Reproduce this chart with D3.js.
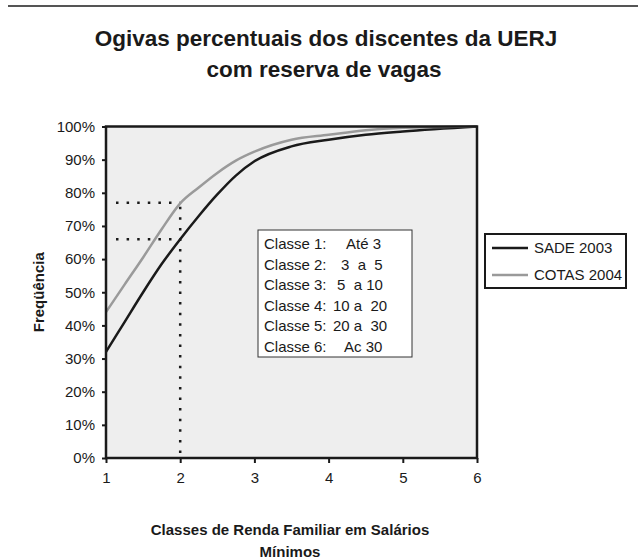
<!DOCTYPE html>
<html>
<head>
<meta charset="utf-8">
<script src="https://cdn.jsdelivr.net/npm/d3@7.9.0/dist/d3.min.js"></script>
<style>
  body { margin: 0; background: #fff; }
  svg text { font-family: "Liberation Sans", Arial, sans-serif; fill: #1a1a1a; }
</style>
</head>
<body>
<svg id="chart" width="638" height="560"></svg>
<script>
// values (cumulative %, by income class)
const classes = [1, 1.25, 1.5, 1.75, 2, 2.25, 2.5, 2.75, 3, 3.5, 4, 4.5, 5, 6];
const sade2003 = [32, 41, 50, 58.5, 66, 73, 79.5, 85.2, 89.5, 94, 96, 97.5, 98.5, 100];
const cotas2004 = [44, 52.3, 60.5, 69, 76.8, 81.6, 86, 89.7, 92.4, 96, 97.5, 98.9, 99.6, 100];
const xTicks = [1, 2, 3, 4, 5, 6];
const yTicks = d3.range(0, 101, 10);
const refClass = 2;
const refLevels = [66, 77];
const classNames = ["Classe 1:", "Classe 2:", "Classe 3:", "Classe 4:", "Classe 5:", "Classe 6:"];
const classRanges = ["Até 3", "3\u00a0\u00a0a\u00a0\u00a05", "5\u00a0\u00a0a 10", "10 a\u00a0\u00a020", "20 a\u00a0\u00a030", "Ac 30"];
const classRangeX = [88, 83, 79, 75, 75, 86];
const seriesNames = ["SADE 2003", "COTAS 2004"];
const seriesColors = ["#1a1a1a", "#9a9a9a"];

const svg = d3.select("#chart");

const x = d3.scaleLinear().domain([1, 6]).range([106, 477]);
const y = d3.scaleLinear().domain([0, 100]).range([458, 126.5]);

// top rule
svg.append("line")
  .attr("x1", 8).attr("x2", 638).attr("y1", 6).attr("y2", 6)
  .attr("stroke", "#555").attr("stroke-width", 2);

// title
svg.append("text")
  .attr("x", 326).attr("y", 46)
  .attr("text-anchor", "middle")
  .style("font-weight", "bold").style("font-size", "22.5px")
  .text("Ogivas percentuais dos discentes da UERJ");
svg.append("text")
  .attr("x", 324).attr("y", 77)
  .attr("text-anchor", "middle")
  .style("font-weight", "bold").style("font-size", "22.5px")
  .text("com reserva de vagas");

// plot background
svg.append("rect")
  .attr("x", x(1)).attr("y", y(100))
  .attr("width", x(6) - x(1)).attr("height", y(0) - y(100))
  .attr("fill", "#eeeeee");

// y axis
const yAxis = d3.axisLeft(y).tickValues(yTicks).tickSize(4).tickFormat((d) => d + "%");
const gy = svg.append("g").attr("transform", `translate(${x(1)},0)`).call(yAxis);
gy.select(".domain").remove();
gy.selectAll(".tick line").attr("stroke", "#1a1a1a").attr("stroke-width", 2);
gy.selectAll(".tick text")
  .attr("x", -11)
  .style("font-size", "15px")
  .style("font-family", "Liberation Sans, Arial, sans-serif")
  .attr("fill", "#1a1a1a");

// x axis
const xAxis = d3.axisBottom(x).tickValues(xTicks).tickSize(5).tickFormat(d3.format("d"));
const gx = svg.append("g").attr("transform", `translate(0,${y(0)})`).call(xAxis);
gx.select(".domain").remove();
gx.selectAll(".tick line").attr("stroke", "#1a1a1a").attr("stroke-width", 2);
gx.selectAll(".tick text")
  .attr("y", 14)
  .style("font-size", "15px")
  .style("font-family", "Liberation Sans, Arial, sans-serif")
  .attr("fill", "#1a1a1a");

// dotted reference lines
const dotted = svg.append("g")
  .attr("stroke", "#1a1a1a")
  .attr("stroke-width", 2.5)
  .attr("stroke-dasharray", "2.5,8.1")
  .attr("fill", "none");
dotted.append("line")
  .attr("x1", x(refClass)).attr("x2", x(refClass))
  .attr("y1", y(0) - 5).attr("y2", y(d3.max(refLevels)));
refLevels.forEach((v) => {
  dotted.append("line")
    .attr("x1", x(1) + 10).attr("x2", x(refClass))
    .attr("y1", y(v)).attr("y2", y(v));
});

// curves
const line = d3.line()
  .x((d, i) => x(classes[i]))
  .y((d) => y(d))
  .curve(d3.curveMonotoneX);
[sade2003, cotas2004].forEach((s, i) => {
  svg.append("path")
    .datum(s)
    .attr("d", line)
    .attr("fill", "none")
    .attr("stroke", seriesColors[i])
    .attr("stroke-width", 2.5);
});

// frame
svg.append("rect")
  .attr("x", x(1)).attr("y", y(100))
  .attr("width", x(6) - x(1)).attr("height", y(0) - y(100))
  .attr("fill", "none")
  .attr("stroke", "#1a1a1a").attr("stroke-width", 2.5);

// class box
const box = svg.append("g").attr("transform", "translate(258,230)");
box.append("rect")
  .attr("width", 154).attr("height", 127)
  .attr("fill", "#fff").attr("stroke", "#333").attr("stroke-width", 1);
classNames.forEach((a, i) => {
  box.append("text")
    .attr("x", 6).attr("y", 19 + i * 20.5)
    .style("font-size", "15px")
    .text(a);
  box.append("text")
    .attr("x", classRangeX[i]).attr("y", 19 + i * 20.5)
    .style("font-size", "15px")
    .text(classRanges[i]);
});

// legend
const leg = svg.append("g").attr("transform", "translate(485,234)");
leg.append("rect")
  .attr("width", 141).attr("height", 54)
  .attr("fill", "#fff").attr("stroke", "#1a1a1a").attr("stroke-width", 2);
seriesNames.forEach((name, i) => {
  const yy = 14 + i * 27;
  leg.append("line")
    .attr("x1", 7).attr("x2", 43).attr("y1", yy).attr("y2", yy)
    .attr("stroke", seriesColors[i]).attr("stroke-width", 2.5);
  leg.append("text")
    .attr("x", 49).attr("y", yy + 5)
    .style("font-size", "15px")
    .text(name);
});

// axis titles
svg.append("text")
  .attr("transform", `translate(44,${(y(0) + y(100)) / 2}) rotate(-90)`)
  .attr("text-anchor", "middle")
  .style("font-weight", "bold").style("font-size", "15px")
  .text("Freqüência");
svg.append("text")
  .attr("x", 290).attr("y", 535)
  .attr("text-anchor", "middle")
  .style("font-weight", "bold").style("font-size", "15px")
  .text("Classes de Renda Familiar em Salários");
svg.append("text")
  .attr("x", 290).attr("y", 557)
  .attr("text-anchor", "middle")
  .style("font-weight", "bold").style("font-size", "15px")
  .text("Mínimos");
</script>
</body>
</html>
